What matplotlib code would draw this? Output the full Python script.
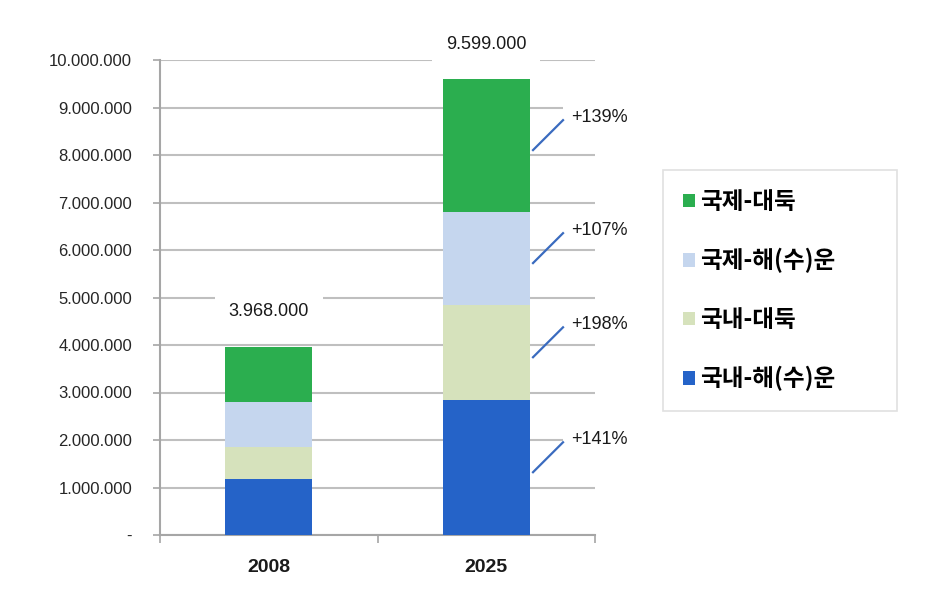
import matplotlib
matplotlib.use("Agg")
import matplotlib.pyplot as plt
import numpy as np
from matplotlib.patches import Patch

plt.rcParams["font.family"] = ["Liberation Sans", "Noto Sans CJK KR", "DejaVu Sans"]

years = ["2008", "2025"]
series_names = ["국내-해(수)운", "국내-대둑", "국제-해(수)운", "국제-대둑"]
series_values = [
    [1180000, 2844000],
    [670000, 1997000],
    [950000, 1967000],
    [1168000, 2791000],
]
series_colors = ["#2563C8", "#D6E2BC", "#C5D6EE", "#2BAE4F"]
growth_labels = ["+141%", "+198%", "+107%", "+139%"]
total_labels = ["3.968.000", "9.599.000"]
ytick_values = list(range(0, 10000001, 1000000))
ytick_labels = ["-"] + [f"{v:,}".replace(",", ".") for v in ytick_values[1:]]

fig = plt.figure(figsize=(9.32, 5.9), dpi=100)
ax = fig.add_axes([160 / 932, 1 - 535 / 590, 435 / 932, 475 / 590])

x = np.arange(len(years))
bottom = np.zeros(len(years))
mids_last = []
for vals, color in zip(series_values, series_colors):
    vals = np.array(vals, dtype=float)
    ax.bar(x, vals, width=0.4, bottom=bottom, color=color, zorder=3)
    mids_last.append(bottom[-1] + vals[-1] / 2)
    bottom = bottom + vals

ax.set_xlim(-0.5, 1.5)
ax.set_ylim(0, 10000000)
ax.set_yticks(ytick_values)
ax.set_yticklabels(ytick_labels, fontsize=12, color="#262626")
ax.set_xticks(x)
ax.set_xticklabels(years, fontsize=14, fontweight="bold", color="#1A1A1A")
ax.set_xticks([-0.5, 0.5, 1.5], minor=True)
ax.tick_params(axis="x", which="major", length=0, pad=17)
ax.tick_params(axis="x", which="minor", length=6, color="#A6A6A6", width=1.2)
ax.tick_params(axis="y", length=5, color="#A6A6A6", width=1.2, pad=15)
ax.grid(axis="y", color="#BFBFBF", linewidth=1.5, zorder=0)
for side in ["top", "right"]:
    ax.spines[side].set_visible(False)
for side in ["left", "bottom"]:
    ax.spines[side].set_color("#A6A6A6")
    ax.spines[side].set_linewidth(1.5)

# totals above bars
for xi, total, label in zip(x, bottom, total_labels):
    ax.annotate(label, (xi, total), xytext=(0, 25), textcoords="offset points",
                ha="center", va="center", fontsize=13, color="#1A1A1A",
                annotation_clip=False,
                bbox=dict(facecolor="white", edgecolor="none", pad=10), zorder=5)

# growth markers beside the 2025 bar
for mid, label in zip(mids_last, growth_labels):
    y0 = mid - 100000
    y1 = y0 + 630000
    ax.text(1.39, y1 + 50000, label, ha="left", va="center", fontsize=13,
            color="#1A1A1A", zorder=4,
            bbox=dict(facecolor="white", edgecolor="none", pad=6))
    ax.plot([1.215, 1.353], [y0, y1], color="#3A6BBF", linewidth=1.6, zorder=5,
            clip_on=False)

handles = [Patch(facecolor=c, edgecolor="none") for c in series_colors[::-1]]
leg = fig.legend(handles, series_names[::-1], loc="upper left", mode="expand",
                 bbox_to_anchor=(663 / 932, 1 - 170 / 590, 234 / 932, 0),
                 prop={"family": ["Noto Sans CJK KR", "DejaVu Sans"], "weight": "bold", "size": 17},
                 frameon=True, fancybox=False, edgecolor="#D9D9D9",
                 handlelength=0.5, handleheight=0.5, handletextpad=0.2,
                 labelspacing=1.45, borderpad=0.85, borderaxespad=0)
leg.get_frame().set_linewidth(1.2)

fig.savefig("out.png", dpi=100)
